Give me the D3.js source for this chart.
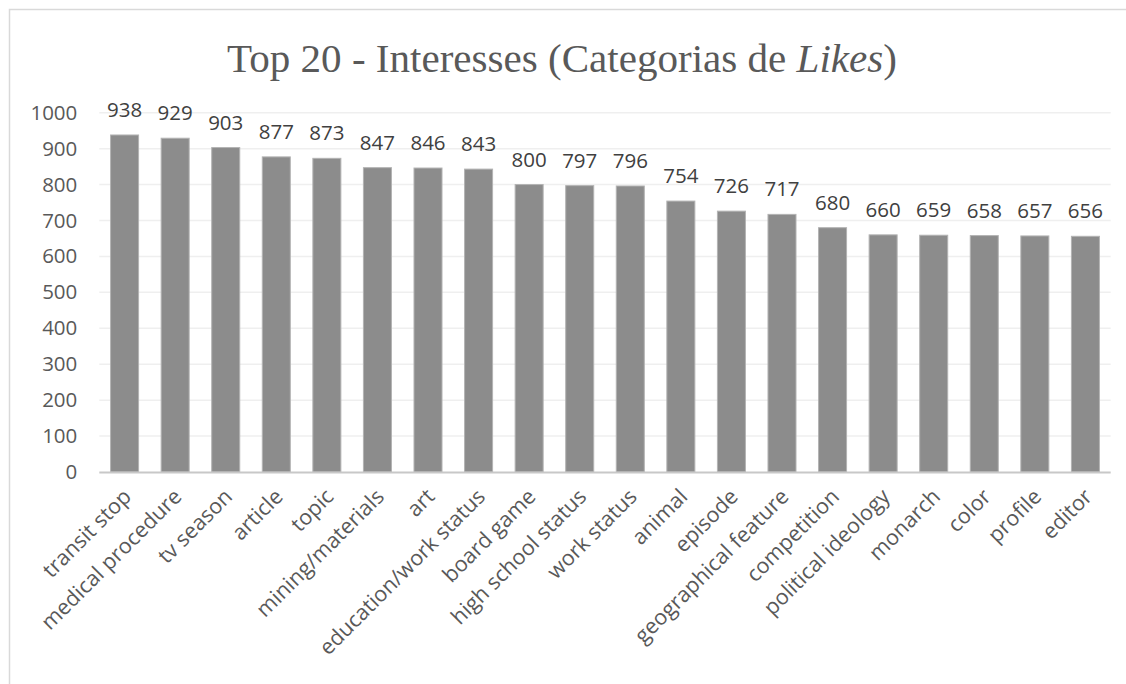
<!DOCTYPE html>
<html>
<head>
<meta charset="utf-8">
<script src="https://cdn.jsdelivr.net/npm/d3@7/dist/d3.min.js"></script>
<style>
  html, body { margin: 0; padding: 0; background: #ffffff; }
  svg { display: block; }
</style>
</head>
<body>
<svg id="chart" width="1126" height="684"></svg>
<script>
// Interest categories (page-like categories) and their counts
const categories = [
  "transit stop", "medical procedure", "tv season", "article", "topic",
  "mining/materials", "art", "education/work status", "board game",
  "high school status", "work status", "animal", "episode",
  "geographical feature", "competition", "political ideology",
  "monarch", "color", "profile", "editor"
];
const counts = [
  938, 929, 903, 877, 873, 847, 846, 843, 800, 797,
  796, 754, 726, 717, 680, 660, 659, 658, 657, 656
];
const yTicks = [0, 100, 200, 300, 400, 500, 600, 700, 800, 900, 1000];

const W = 1126, H = 684;
const margin = { left: 99.3, right: 1110.7, top: 112.7, bottom: 472 };
const textColor = "#595959";
const labelFont = "'Open Sans', 'Liberation Sans', sans-serif";

const svg = d3.select("#chart");

// chart frame
svg.append("rect")
  .attr("x", 9.5).attr("y", 9.5)
  .attr("width", W + 20).attr("height", H + 20)
  .attr("fill", "#ffffff")
  .attr("stroke", "#d9d9d9")
  .attr("stroke-width", 1.5);

const x = d3.scaleBand()
  .domain(categories)
  .range([margin.left, margin.right])
  .paddingInner(0.446)
  .paddingOuter(0.223);

const y = d3.scaleLinear()
  .domain([0, 1000])
  .range([margin.bottom, margin.top]);

// horizontal gridlines
svg.append("g")
  .selectAll("line")
  .data(yTicks.filter(d => d > 0))
  .join("line")
  .attr("x1", margin.left).attr("x2", margin.right)
  .attr("y1", d => y(d)).attr("y2", d => y(d))
  .attr("stroke", "#efefef")
  .attr("stroke-width", 1.5);

// value axis labels
const yAxis = svg.append("g")
  .attr("transform", `translate(${margin.left - 22},0)`)
  .call(d3.axisLeft(y).tickValues(yTicks).tickFormat(d3.format("d")).tickSize(0).tickPadding(0));
yAxis.select(".domain").remove();
yAxis.selectAll("text")
  .attr("fill", textColor)
  .attr("font-family", labelFont)
  .attr("font-size", "20.5px");

// bars
svg.append("g")
  .selectAll("rect")
  .data(categories)
  .join("rect")
  .attr("x", d => x(d))
  .attr("y", (d, i) => y(counts[i]))
  .attr("width", x.bandwidth())
  .attr("height", (d, i) => y(0) - y(counts[i]))
  .attr("fill", "#8c8c8c")
  .attr("stroke", "#b3b3b3")
  .attr("stroke-width", 1);

// category axis line
svg.append("line")
  .attr("x1", margin.left).attr("x2", margin.right)
  .attr("y1", y(0) + 0.5).attr("y2", y(0) + 0.5)
  .attr("stroke", "#c8c8c8")
  .attr("stroke-width", 2.2);

// value labels above the bars
svg.append("g")
  .selectAll("text")
  .data(categories)
  .join("text")
  .attr("x", d => x(d) + x.bandwidth() / 2)
  .attr("y", (d, i) => y(counts[i]) - 18)
  .attr("text-anchor", "middle")
  .attr("fill", "#404040")
  .attr("font-family", labelFont)
  .attr("font-size", "20.5px")
  .text((d, i) => counts[i]);

// rotated category labels
svg.append("g")
  .selectAll("text")
  .data(categories)
  .join("text")
  .attr("transform", d => `translate(${x(d) + x.bandwidth() / 2 - 3},${y(0) + 15}) rotate(-45)`)
  .attr("text-anchor", "end")
  .attr("dy", "0.72em")
  .attr("fill", textColor)
  .attr("font-family", labelFont)
  .attr("font-size", "21.5px")
  .text(d => d);

// title
const title = svg.append("text")
  .attr("x", 227)
  .attr("y", 72)
  .attr("textLength", 670)
  .attr("lengthAdjust", "spacingAndGlyphs")
  .attr("fill", textColor)
  .attr("font-family", "'Liberation Serif', 'DejaVu Serif', serif")
  .attr("font-size", "40px");
title.append("tspan").text("Top 20 - Interesses (Categorias de ");
title.append("tspan").attr("font-style", "italic").text("Likes");
title.append("tspan").text(")");
</script>
</body>
</html>
